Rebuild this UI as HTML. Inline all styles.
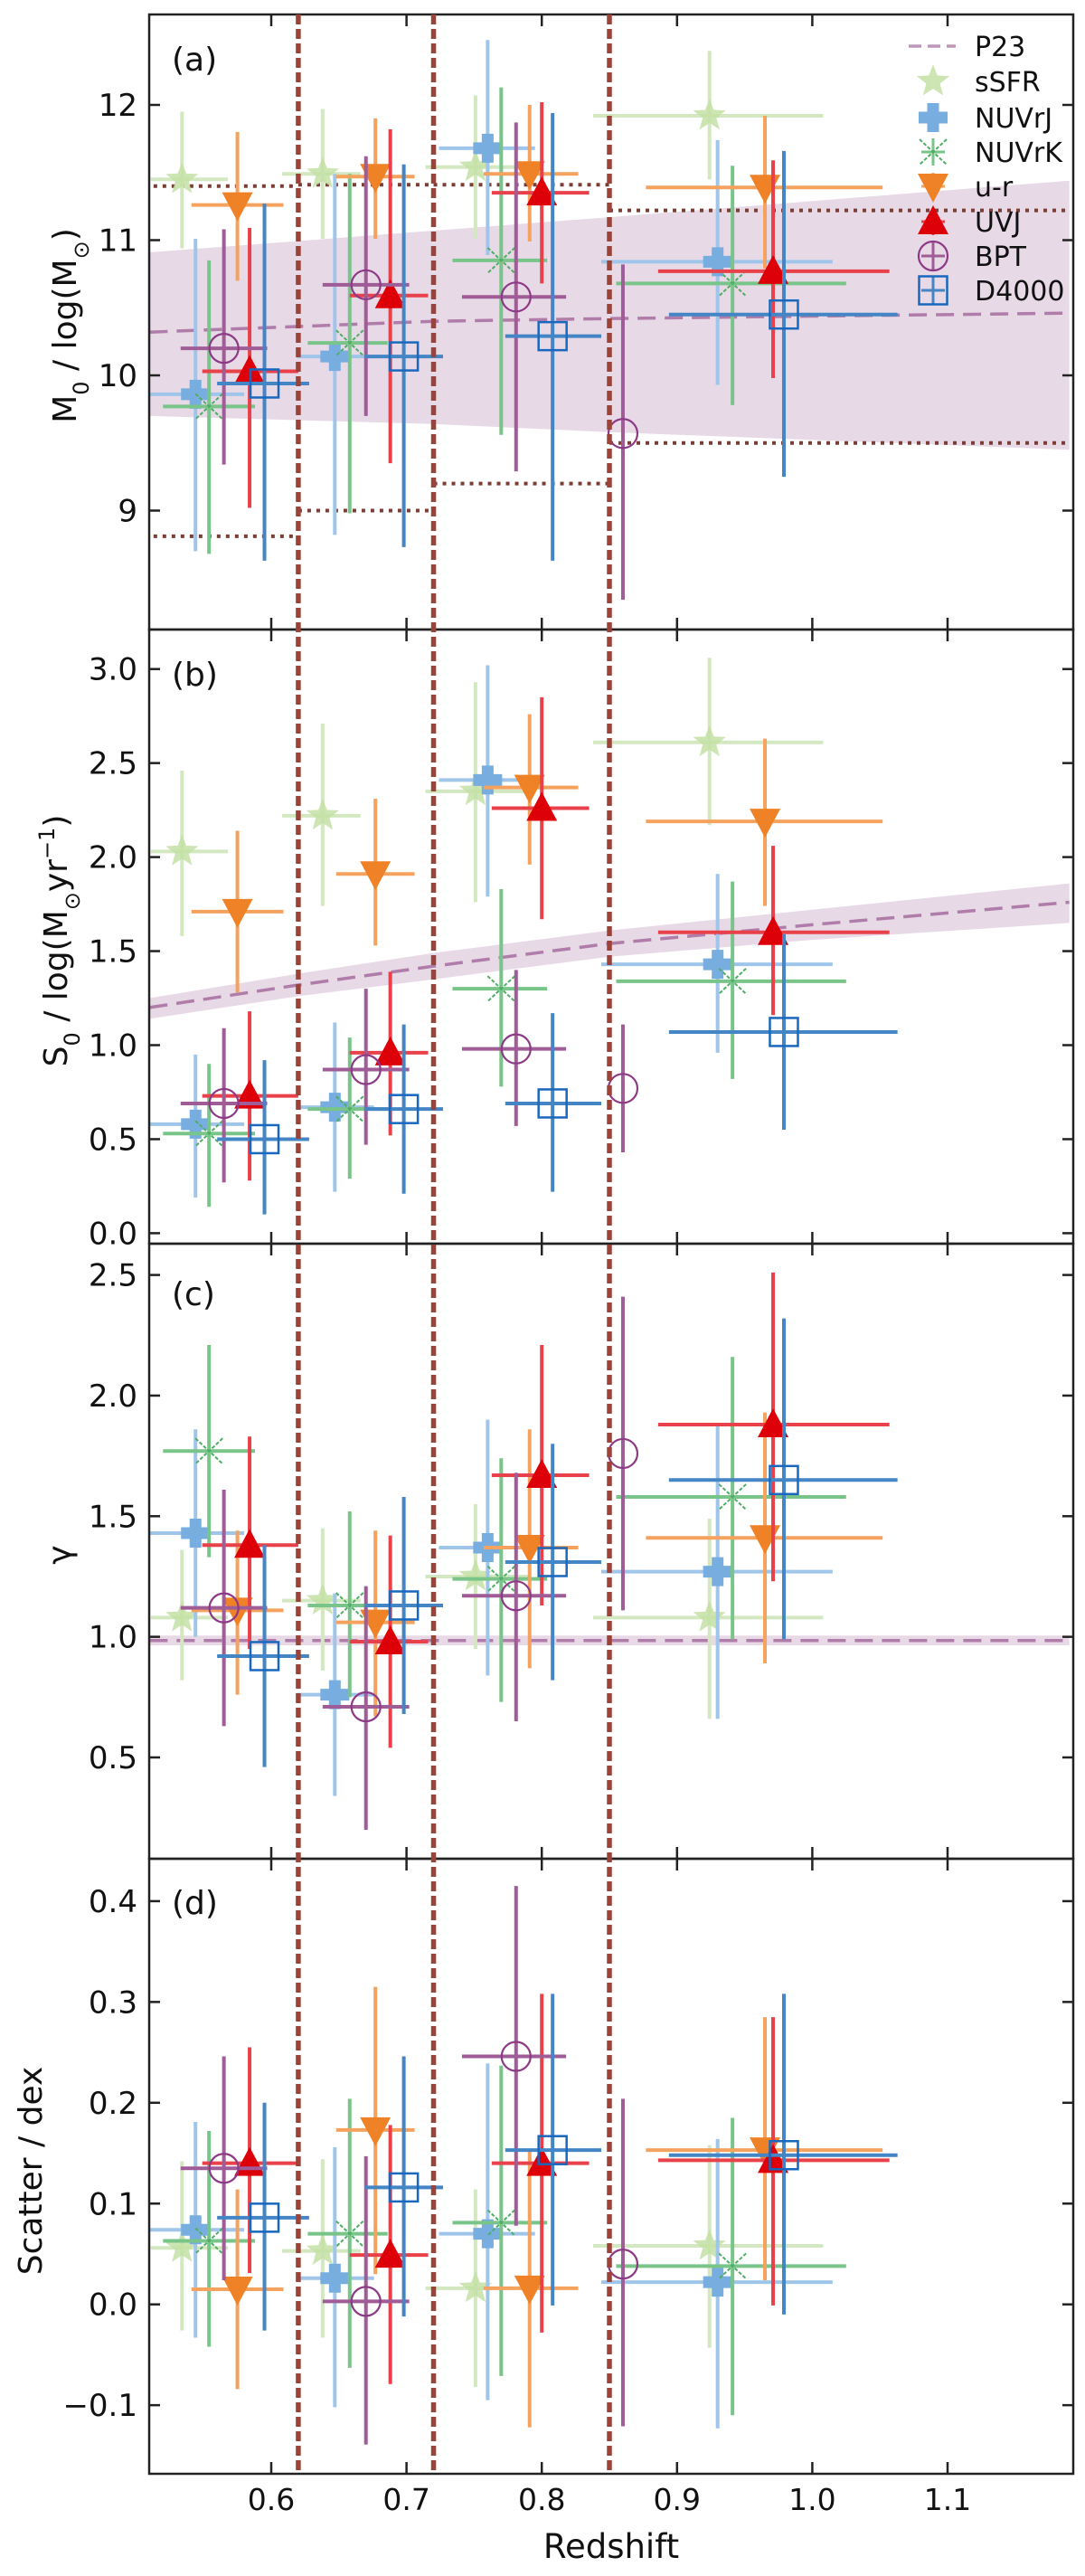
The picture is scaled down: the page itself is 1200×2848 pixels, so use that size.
<!DOCTYPE html>
<html><head><meta charset="utf-8">
<style>
html,body{margin:0;padding:0;background:#fff;}
svg{display:block;font-family:"DejaVu Sans","Liberation Sans",sans-serif;}
</style></head>
<body>
<svg id="chart" width="1200" height="2848" viewBox="0 0 1200 2848" xmlns="http://www.w3.org/2000/svg"></svg>
<script>
// ---------- data ----------
const seriesNames = ["sSFR","NUVrJ","NUVrK","u-r","UVJ","BPT","D4000"];
const binEdges = [0.62, 0.72, 0.85];
const xTicks = [0.6, 0.7, 0.8, 0.9, 1.0, 1.1];
const xTickLabels = ["0.6","0.7","0.8","0.9","1.0","1.1"];

const zMid = {sSFR:[0.534,0.638,0.751,0.924], NUVrJ:[0.544,0.647,0.760,0.930], NUVrK:[0.554,0.658,0.770,0.941], "u-r":[0.575,0.677,0.791,0.965], UVJ:[0.584,0.688,0.800,0.971], BPT:[0.565,0.670,0.781,0.860], D4000:[0.595,0.698,0.808,0.979]};
const zLo = {sSFR:[0.511,0.608,0.714,0.838], NUVrJ:[0.505,0.619,0.724,0.844], NUVrK:[0.520,0.627,0.734,0.855], "u-r":[0.541,0.648,0.757,0.877], UVJ:[0.549,0.658,0.763,0.886], BPT:[0.533,0.638,0.741,0.860], D4000:[0.560,0.669,0.773,0.894]};
const zHi = {sSFR:[0.568,0.666,0.790,1.008], NUVrJ:[0.580,0.676,0.795,1.015], NUVrK:[0.588,0.686,0.804,1.025], "u-r":[0.609,0.706,0.827,1.052], UVJ:[0.620,0.716,0.835,1.057], BPT:[0.597,0.702,0.818,0.860], D4000:[0.628,0.727,0.844,1.063]};

// panel (a) M0
const massVal = {sSFR:[11.45,11.49,11.54,11.92], NUVrJ:[9.86,10.14,11.68,10.84], NUVrK:[9.77,10.24,10.85,10.68], "u-r":[11.26,11.47,11.49,11.39], UVJ:[10.03,10.59,11.35,10.77], BPT:[10.20,10.67,10.58,9.57], D4000:[9.94,10.14,10.29,10.45]};
const massHi = {sSFR:[11.95,11.97,12.07,12.40], NUVrJ:[11.01,11.49,12.48,11.74], NUVrK:[10.85,11.49,12.13,11.55], "u-r":[11.80,11.90,12.00,11.92], UVJ:[11.09,11.82,12.02,11.59], BPT:[11.08,11.62,11.87,10.82], D4000:[11.27,11.56,11.94,11.66]};
const massLo = {sSFR:[10.94,11.01,11.01,11.45], NUVrJ:[8.70,8.82,10.89,9.93], NUVrK:[8.68,8.98,9.56,9.78], "u-r":[10.70,11.01,10.99,10.79], UVJ:[9.02,9.35,10.68,9.98], BPT:[9.34,9.70,9.29,8.34], D4000:[8.63,8.73,8.63,9.25]};
const massLimZ0 = [0.513,0.62,0.72,0.85];
const massLimZ1 = [0.62,0.72,0.85,1.19];
const massLimUpper = [11.40,11.41,11.41,11.22];
const massLimLower = [8.81,9.00,9.20,9.50];
const massP23Z = [0.51,0.72,0.85,1.19];
const massP23 = [10.32,10.40,10.42,10.46];
const massP23Up = [10.91,11.07,11.17,11.44];
const massP23Dn = [9.70,9.64,9.58,9.45];

// panel (b) S0
const sfrVal = {sSFR:[2.03,2.22,2.35,2.61], NUVrJ:[0.58,0.67,2.41,1.43], NUVrK:[0.53,0.66,1.30,1.34], "u-r":[1.71,1.91,2.37,2.19], UVJ:[0.73,0.96,2.26,1.60], BPT:[0.69,0.87,0.98,0.77], D4000:[0.50,0.66,0.69,1.07]};
const sfrHi = {sSFR:[2.46,2.71,2.93,3.06], NUVrJ:[0.95,1.12,3.02,1.91], NUVrK:[0.90,1.04,1.83,1.87], "u-r":[2.14,2.31,2.76,2.63], UVJ:[1.18,1.39,2.85,2.06], BPT:[1.09,1.30,1.40,1.11], D4000:[0.92,1.11,1.17,1.59]};
const sfrLo = {sSFR:[1.58,1.74,1.76,2.17], NUVrJ:[0.19,0.22,1.79,0.96], NUVrK:[0.14,0.29,0.78,0.82], "u-r":[1.28,1.53,1.96,1.74], UVJ:[0.28,0.52,1.67,1.16], BPT:[0.27,0.47,0.57,0.43], D4000:[0.10,0.21,0.22,0.55]};
const sfrP23Z = [0.51,0.62,0.72,0.85,1.0,1.19];
const sfrP23 = [1.20,1.32,1.42,1.54,1.64,1.76];
const sfrP23Up = [1.25,1.38,1.49,1.61,1.72,1.86];
const sfrP23Dn = [1.14,1.26,1.35,1.47,1.56,1.65];

// panel (c) gamma
const gamVal = {sSFR:[1.08,1.15,1.25,1.08], NUVrJ:[1.43,0.76,1.37,1.27], NUVrK:[1.77,1.13,1.24,1.58], "u-r":[1.11,1.06,1.37,1.41], UVJ:[1.38,0.98,1.67,1.88], BPT:[1.12,0.71,1.17,1.76], D4000:[0.92,1.13,1.31,1.65]};
const gamHi = {sSFR:[1.36,1.45,1.55,1.49], NUVrJ:[1.86,1.18,1.90,1.88], NUVrK:[2.21,1.52,1.74,2.16], "u-r":[1.44,1.44,1.86,1.93], UVJ:[1.83,1.42,2.21,2.51], BPT:[1.61,1.21,1.68,2.41], D4000:[1.38,1.58,1.80,2.32]};
const gamLo = {sSFR:[0.82,0.86,0.95,0.66], NUVrJ:[1.00,0.34,0.84,0.66], NUVrK:[1.33,0.75,0.73,0.99], "u-r":[0.76,0.67,0.87,0.89], UVJ:[0.95,0.54,1.13,1.23], BPT:[0.63,0.20,0.65,1.11], D4000:[0.46,0.68,0.82,0.99]};
const gamP23Z = [0.51,1.19];
const gamP23 = [0.985,0.985];
const gamP23Up = [1.005,1.005];
const gamP23Dn = [0.965,0.965];

// panel (d) scatter
const scatVal = {sSFR:[0.056,0.053,0.016,0.058], NUVrJ:[0.074,0.026,0.070,0.022], NUVrK:[0.063,0.070,0.081,0.038], "u-r":[0.015,0.173,0.016,0.153], UVJ:[0.140,0.049,0.140,0.143], BPT:[0.135,0.003,0.246,0.040], D4000:[0.086,0.116,0.153,0.148]};
const scatHi = {sSFR:[0.142,0.144,0.114,0.158], NUVrJ:[0.181,0.156,0.239,0.164], NUVrK:[0.172,0.204,0.237,0.185], "u-r":[0.114,0.315,0.152,0.285], UVJ:[0.255,0.178,0.308,0.285], BPT:[0.246,0.147,0.415,0.204], D4000:[0.200,0.246,0.308,0.308]};
const scatLo = {sSFR:[-0.026,-0.033,-0.082,-0.043], NUVrJ:[-0.033,-0.102,-0.095,-0.123], NUVrK:[-0.042,-0.063,-0.071,-0.110], "u-r":[-0.084,0.030,-0.122,0.024], UVJ:[0.031,-0.079,-0.028,-0.001], BPT:[0.024,-0.139,0.078,-0.121], D4000:[-0.026,-0.012,-0.001,-0.010]};

const massTicks = [9,10,11,12];
const massTickLabels = ["9","10","11","12"];
const sfrTicks = [0,0.5,1,1.5,2,2.5,3];
const sfrTickLabels = ["0.0","0.5","1.0","1.5","2.0","2.5","3.0"];
const gamTicks = [0.5,1,1.5,2,2.5];
const gamTickLabels = ["0.5","1.0","1.5","2.0","2.5"];
const scatTicks = [-0.1,0,0.1,0.2,0.3,0.4];
const scatTickLabels = ["\u22120.1","0.0","0.1","0.2","0.3","0.4"];

// ---------- rendering ----------
const NS = "http://www.w3.org/2000/svg";
const svg = document.getElementById("chart");
function mk(tag, attrs, parent){const e=document.createElementNS(NS,tag);for(const k in attrs)e.setAttribute(k,attrs[k]);(parent||svg).appendChild(e);return e;}

const X0 = 165, X1 = 1187;
function xs(z){return 300 + (z-0.6)*1496;}

const styles = {
  sSFR:{bar:"#d3e8c0", mk:"#c3e0a4"},
  NUVrJ:{bar:"#9fc6ea", mk:"#78ade0"},
  NUVrK:{bar:"#78c489", mk:"#4fae65"},
  "u-r":{bar:"#f4a25e", mk:"#ef8226"},
  UVJ:{bar:"#e9414a", mk:"#dd0008"},
  BPT:{bar:"#a05c97", mk:"#8d3a86"},
  D4000:{bar:"#4485c6", mk:"#1a68bd"}
};

function starPath(cx,cy,R,r){let d="";for(let i=0;i<10;i++){const a=-Math.PI/2+i*Math.PI/5;const rr=i%2?r:R;d+=(i?"L":"M")+(cx+rr*Math.cos(a)).toFixed(1)+","+(cy+rr*Math.sin(a)).toFixed(1);}return d+"Z";}

function drawMarker(s,cx,cy,g){
  const c=styles[s].mk; let e;
  if(s==="sSFR"){e=mk("path",{d:starPath(cx,cy,19,8),fill:c,"fill-opacity":0.85},g);}
  else if(s==="NUVrJ"){e=mk("path",{d:`M${cx-6.5},${cy-16}h13v9.5h9.5v13h-9.5v9.5h-13v-9.5h-9.5v-13h9.5z`,fill:c},g);}
  else if(s==="NUVrK"){e=mk("path",{d:`M${cx-15},${cy-14}L${cx+15},${cy+14}M${cx+15},${cy-14}L${cx-15},${cy+14}`,stroke:c,"stroke-width":2,"stroke-dasharray":"4 2",fill:"none"},g);}
  else if(s==="u-r"){e=mk("path",{d:`M${cx-17},${cy-14}L${cx+17},${cy-14}L${cx},${cy+18}Z`,fill:c},g);}
  else if(s==="UVJ"){e=mk("path",{d:`M${cx-17},${cy+14}L${cx+17},${cy+14}L${cx},${cy-18}Z`,fill:c},g);}
  else if(s==="BPT"){e=mk("ellipse",{cx:cx,cy:cy,rx:16,ry:16,fill:"none",stroke:c,"stroke-width":2.2},g);}
  else {e=mk("rect",{x:cx-15.5,y:cy-15.5,width:31,height:31,fill:"none",stroke:c,"stroke-width":2.5},g);}
  return e;
}

const panels = [
  {key:"a",top:16,bot:696,y:v=>415-(v-10)*149.5,ticks:massTicks,labels:massTickLabels,val:massVal,lo:massLo,hi:massHi,pz:massP23Z,p:massP23,pu:massP23Up,pd:massP23Dn,tag:"(a)",tagY:78,name:"mass"},
  {key:"b",top:696,bot:1375,y:v=>1363.4-v*207.9,ticks:sfrTicks,labels:sfrTickLabels,val:sfrVal,lo:sfrLo,hi:sfrHi,pz:sfrP23Z,p:sfrP23,pu:sfrP23Up,pd:sfrP23Dn,tag:"(b)",tagY:758,name:"sfr"},
  {key:"c",top:1375,bot:2055,y:v=>1409.6-(v-2.5)*266.7,ticks:gamTicks,labels:gamTickLabels,val:gamVal,lo:gamLo,hi:gamHi,pz:gamP23Z,p:gamP23,pu:gamP23Up,pd:gamP23Dn,tag:"(c)",tagY:1443,name:"gamma"},
  {key:"d",top:2055,bot:2735,y:v=>2547.7-v*1114.5,ticks:scatTicks,labels:scatTickLabels,val:scatVal,lo:scatLo,hi:scatHi,pz:null,tag:"(d)",tagY:2116,name:"scatter"}
];

const defs = mk("defs",{});
panels.forEach(P=>{
  const cp = mk("clipPath",{id:"clip-"+P.key},defs);
  mk("rect",{x:X0,y:P.top,width:X1-X0,height:P.bot-P.top},cp);

  const g = mk("g",{"clip-path":`url(#clip-${P.key})`});
  
  

  if(P.pz){
    let d="";
    P.pz.forEach((z,i)=>{d+=(i?"L":"M")+xs(z).toFixed(1)+","+P.y(P.pu[i]).toFixed(1);});
    for(let i=P.pz.length-1;i>=0;i--){d+="L"+xs(P.pz[i]).toFixed(1)+","+P.y(P.pd[i]).toFixed(1);}
    const band = mk("path",{d:d+"Z",fill:"#d6b9d3","fill-opacity":0.55},g);
    
    
    let dl="";
    P.pz.forEach((z,i)=>{dl+=(i?"L":"M")+xs(z).toFixed(1)+","+P.y(P.p[i]).toFixed(1);});
    const line = mk("path",{d:dl,fill:"none",stroke:"#b07ca9","stroke-width":3.5,"stroke-dasharray":"20 10"},g);
    
    
  }

  if(P.key==="a"){
    massLimZ0.forEach((z0,i)=>{
      const up = mk("line",{x1:xs(z0),x2:xs(massLimZ1[i]),y1:P.y(massLimUpper[i]),y2:P.y(massLimUpper[i]),stroke:"#7a3e35","stroke-width":4,"stroke-dasharray":"4 6"},g);
      
      
      const lo = mk("line",{x1:xs(z0),x2:xs(massLimZ1[i]),y1:P.y(massLimLower[i]),y2:P.y(massLimLower[i]),stroke:"#7a3e35","stroke-width":4,"stroke-dasharray":"4 6"},g);
      
      
    });
  }

  seriesNames.forEach(s=>{
    const sg = mk("g",{},g);
    
    
    P.val[s].forEach((v,i)=>{
      const cx = xs(zMid[s][i]), cy = P.y(v);
      const h = mk("line",{x1:xs(zLo[s][i]),x2:xs(zHi[s][i]),y1:cy,y2:cy,stroke:styles[s].bar,"stroke-width":4},sg);
      
      
      const vb = mk("line",{x1:cx,x2:cx,y1:P.y(P.hi[s][i]),y2:P.y(P.lo[s][i]),stroke:styles[s].bar,"stroke-width":4},sg);
      
      
      const m = drawMarker(s,cx,cy,sg);
      
      
    });
  });

  const fr = mk("rect",{x:X0,y:P.top,width:X1-X0,height:P.bot-P.top,fill:"none",stroke:"#222","stroke-width":2.5});
  
  

  xTicks.forEach((z,i)=>{
    const t1 = mk("line",{x1:xs(z),x2:xs(z),y1:P.top,y2:P.top+13,stroke:"#222","stroke-width":2.5});
    
    
    const t2 = mk("line",{x1:xs(z),x2:xs(z),y1:P.bot,y2:P.bot-13,stroke:"#222","stroke-width":2.5});
    
    
    if(P.key==="d"){
      const tl = mk("text",{x:xs(z),y:2775,"text-anchor":"middle","font-size":33,fill:"#111"});
      tl.textContent = xTickLabels[i];
      
      
    }
  });
  P.ticks.forEach((v,i)=>{
    const y = P.y(v);
    const t1 = mk("line",{x1:X0,x2:X0+12,y1:y,y2:y,stroke:"#222","stroke-width":2.5});
    
    
    const t2 = mk("line",{x1:X1,x2:X1-12,y1:y,y2:y,stroke:"#222","stroke-width":2.5});
    
    
    const tl = mk("text",{x:152,y:y+12,"text-anchor":"end","font-size":34,fill:"#111"});
    tl.textContent = P.labels[i];
    
    
  });
  const tg = mk("text",{x:190,y:P.tagY,"font-size":36,fill:"#111"});
  tg.textContent = P.tag;
  
  
});

binEdges.forEach((z,i)=>{
  const l = mk("line",{x1:xs(z),x2:xs(z),y1:16,y2:2735,stroke:"#9b4339","stroke-width":5.5,"stroke-dasharray":"11 5"});
  
  
});

const legendY = [51,90,130,168,206,245,283,321];
const lg = mk("g",{});


const lp = mk("line",{x1:1005,x2:1057,y1:legendY[0],y2:legendY[0],stroke:"#c097bb","stroke-width":3.5,"stroke-dasharray":"14 7"},lg);


const lt0 = mk("text",{x:1078,y:legendY[0]+11,"font-size":30,fill:"#111"},lg);
lt0.textContent = "P23";


seriesNames.forEach((s,i)=>{
  const y = legendY[i+1];
  if(s!=="sSFR"){
    const c = styles[s].bar;
    const a = mk("line",{x1:1019,x2:1045,y1:y,y2:y,stroke:c,"stroke-width":3},lg);
    
    
    const b = mk("line",{x1:1032,x2:1032,y1:y-15,y2:y+15,stroke:c,"stroke-width":3},lg);
    
    
  }
  const m = drawMarker(s,1032,y,lg);
  
  
  const t = mk("text",{x:1078,y:y+11,"font-size":30,fill:"#111"},lg);
  t.textContent = s;
  
  
});

function yTitle(cx,cy,name,parts){
  const t = mk("text",{x:0,y:0,transform:`translate(${cx},${cy}) rotate(-90)`,"text-anchor":"middle","font-size":36,fill:"#111"});
  
  
  parts.forEach(p=>{const ts=mk("tspan",{},t);ts.textContent=p[0];if(p[1])ts.setAttribute("baseline-shift",p[1]);if(p[2])ts.setAttribute("font-size",p[2]);});
}
yTitle(84,360,"y-axis-title-mass",[["M"],["0","sub",24],[" / log(M"],["\u2299","sub",24],[")"]]);
yTitle(74,1040,"y-axis-title-sfr",[["S"],["0","sub",24],[" / log(M"],["\u2299","sub",24],["yr"],["\u22121","super",24],[")"]]);
yTitle(78,1719,"y-axis-title-gamma",[["\u03b3"]]);
yTitle(46,2400,"y-axis-title-scatter",[["Scatter / dex"]]);
const xt = mk("text",{x:676,y:2828,"text-anchor":"middle","font-size":37,fill:"#111"});
xt.textContent = "Redshift";


</script>
</body></html>
